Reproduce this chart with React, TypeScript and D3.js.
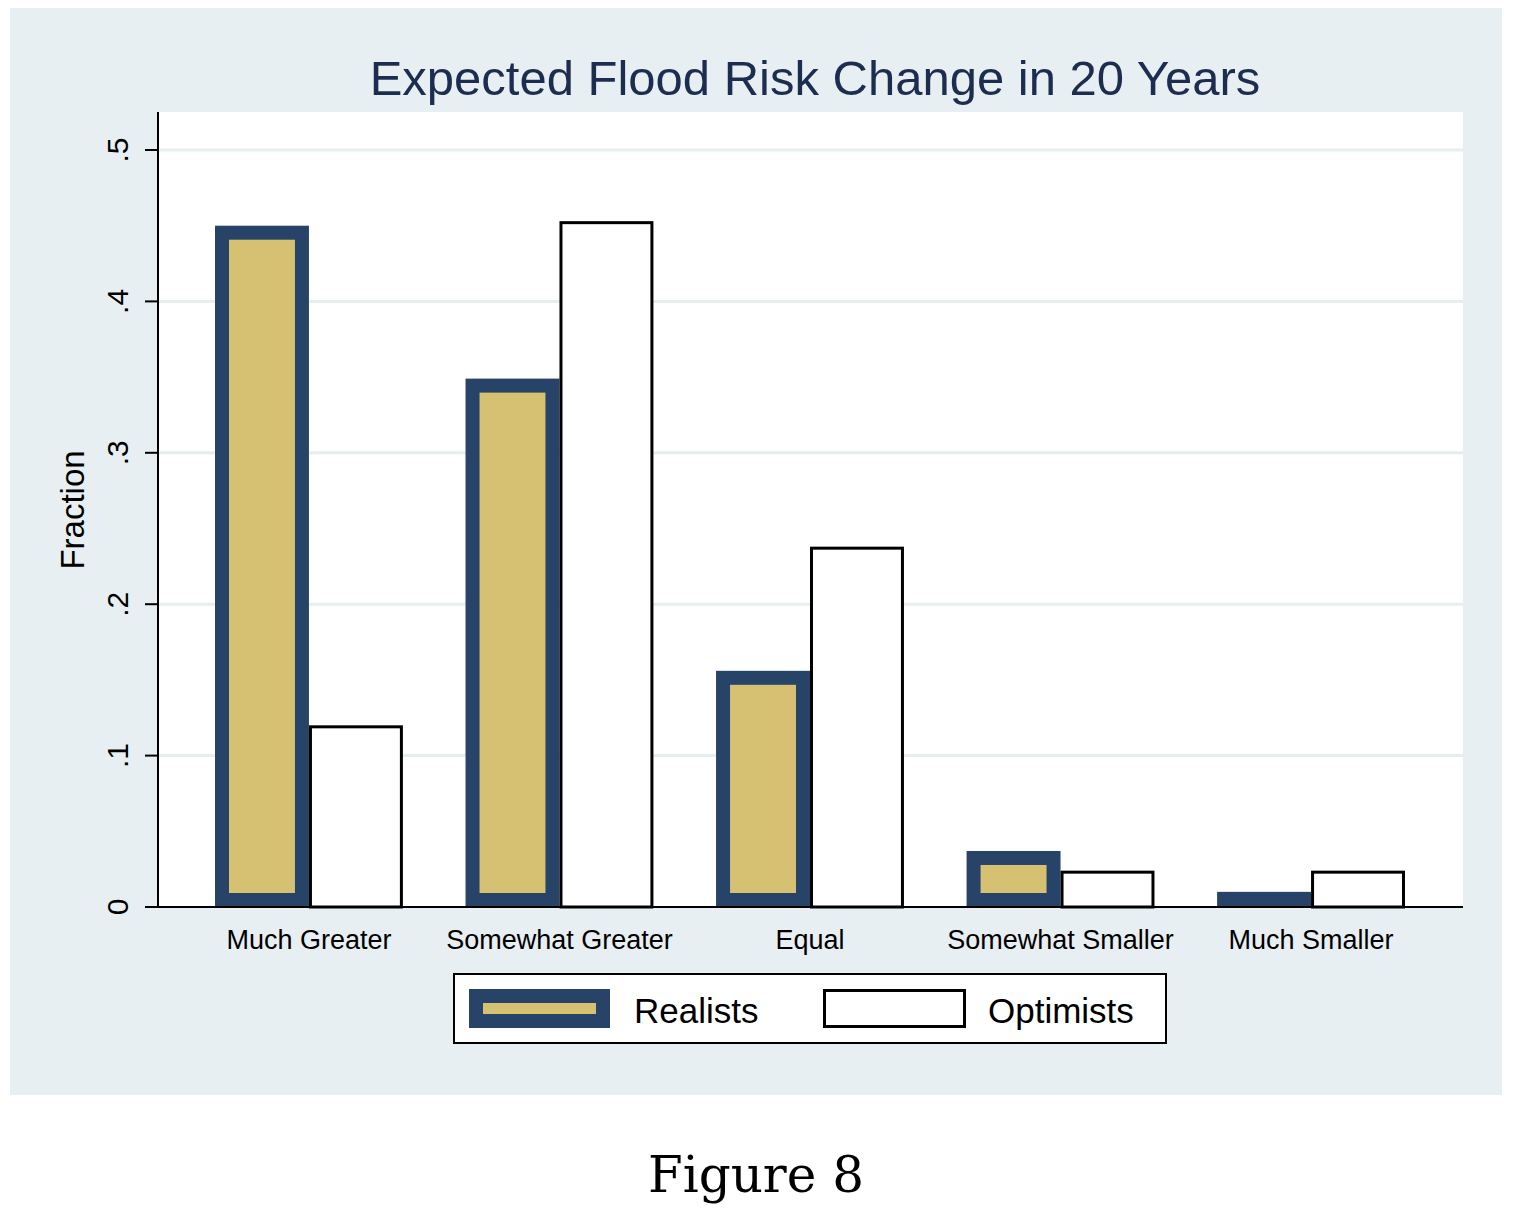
import React from "react";
import * as d3 from "d3";

const categories = ["Much Greater", "Somewhat Greater", "Equal", "Somewhat Smaller", "Much Smaller"];
const realists = [0.45, 0.349, 0.156, 0.037, 0.01];
const optimists = [0.12, 0.453, 0.238, 0.024, 0.024];
const yTicks = [0, 0.1, 0.2, 0.3, 0.4, 0.5];
const yTickLabels = ["0", ".1", ".2", ".3", ".4", ".5"];

const NAVY = "#274468";
const GOLD = "#d6c172";
const BG = "#e8eff2";
const FONT = "Liberation Sans, Arial, sans-serif";

export default function App() {
  const y = d3.scaleLinear().domain([0, 0.5]).range([907, 150]);
  const x = d3.scaleBand().domain(categories).range([215, 1405]).paddingInner(0.25).paddingOuter(0);
  const bw = x.bandwidth() / 2;
  const b = 14;
  return (
    <svg width={1516} height={1218} style={{ position: "absolute", left: 0, top: 0 }} fontFamily={FONT}>
      <rect width={1516} height={1218} fill="#fff" />
      <rect x={10} y={8} width={1492} height={1087} fill={BG} />
      <rect x={158} y={112} width={1305} height={795} fill="#fff" />
      <text x={815} y={95} textAnchor="middle" fontSize={49} fill="#1c2d50">Expected Flood Risk Change in 20 Years</text>
      {yTicks.map((t, i) => (
        <g key={i}>
          {t > 0 && <line x1={158} x2={1463} y1={y(t)} y2={y(t)} stroke="#e6eef0" strokeWidth={3} />}
          <line x1={145} x2={158} y1={y(t)} y2={y(t)} stroke="#000" strokeWidth={2} />
          <text transform={`translate(128,${y(t)}) rotate(-90)`} textAnchor="middle" fontSize={30}>{yTickLabels[i]}</text>
        </g>
      ))}
      <text transform="translate(84,510) rotate(-90)" textAnchor="middle" fontSize={33}>Fraction</text>
      {categories.map((c, i) => {
        const x0 = x(c)!;
        const rv = y(realists[i]);
        const ov = y(optimists[i]);
        const rh = 907 - rv;
        return (
          <g key={c}>
            <rect x={x0} y={rv} width={bw} height={rh} fill={NAVY} />
            {rh > 2 * b && <rect x={x0 + b} y={rv + b} width={bw - 2 * b} height={rh - 2 * b} fill={GOLD} />}
            <rect x={x0 + bw + 1.5} y={ov + 1.5} width={bw - 3} height={907 - ov - 1.5} fill="#fff" stroke="#000" strokeWidth={3} />
            <text x={x0 + bw} y={949} textAnchor="middle" fontSize={27}>{c}</text>
          </g>
        );
      })}
      <line x1={158} x2={158} y1={112} y2={907} stroke="#000" strokeWidth={2} />
      <line x1={158} x2={1463} y1={907} y2={907} stroke="#000" strokeWidth={2} />
      <rect x={454} y={974} width={712} height={69} fill="#fff" stroke="#000" strokeWidth={2} />
      <rect x={469} y={989} width={141} height={39} fill={NAVY} />
      <rect x={483} y={1003} width={113} height={11} fill={GOLD} />
      <text x={634} y={1023} fontSize={35}>Realists</text>
      <rect x={824.5} y={990.5} width={140} height={36} fill="#fff" stroke="#000" strokeWidth={3} />
      <text x={988} y={1023} fontSize={35}>Optimists</text>
      <text x={756} y={1192} textAnchor="middle" fontSize={50} fontFamily="DejaVu Serif, serif">Figure 8</text>
    </svg>
  );
}
